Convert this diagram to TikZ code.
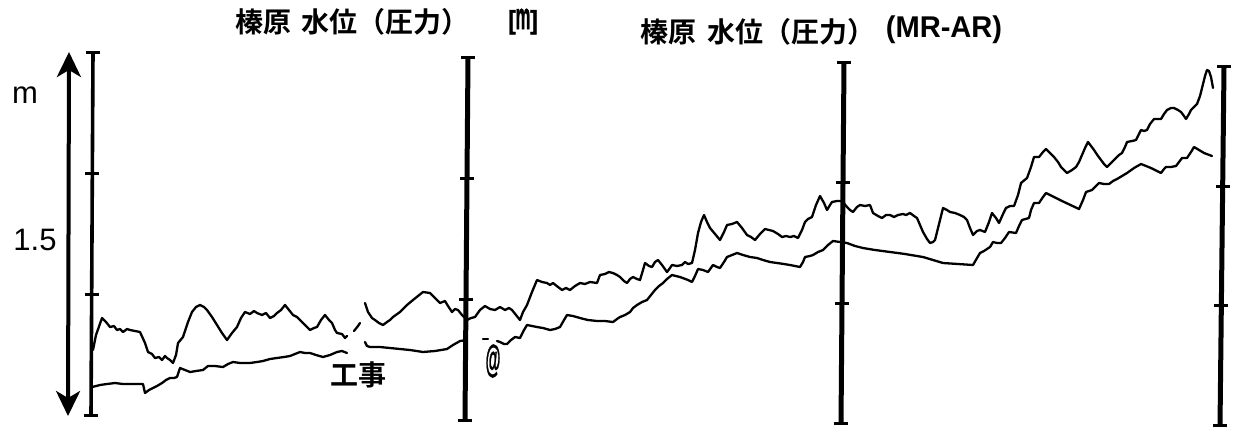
\documentclass[tikz,border=0pt]{standalone}
\usepackage{fontspec}
\setmainfont{Liberation Sans}
\newfontfamily\cjkb{Noto Sans CJK JP Bold}
\newfontfamily\heavy{Liberation Sans Bold}[FakeBold=1.5]
\usetikzlibrary{arrows.meta,calc}
\tikzset{
  axisbar/.style={line width=2.5pt},
  axisthin/.style={line width=1.8pt},
  capline/.style={line width=1.5pt},
  curve/.style={line width=1.15pt,line join=round,line cap=round},
  dblarrow/.style={line width=2pt,{Stealth[length=12.5pt,width=12pt,inset=3.5pt]}-{Stealth[length=12.5pt,width=12pt,inset=3.5pt]}},
  cjklabel/.style={font=\cjkb\fontsize{14pt}{16pt}\selectfont,inner sep=0pt},
  numlabel/.style={font=\fontsize{15.5pt}{18pt}\selectfont,inner sep=0pt,anchor=base},
}
\begin{document}
\begin{tikzpicture}[x=0.5pt,y=-0.5pt]
\useasboundingbox (0,0) rectangle (1234,428);
% titles
\node[cjklabel,anchor=base west] (t1a) at (235,32.5) {榛原};
\node[cjklabel,anchor=base west] (t1b) at (301,32.5) {水位（圧力）};
\node[inner sep=0pt,anchor=base,font=\heavy\fontsize{13pt}{15pt}\selectfont] (t1c) at (523,29) {\scalebox{0.85}[1]{[\scalebox{0.75}[1.45]{m}]}};
\node[cjklabel,anchor=base west] (t2a) at (640,42) {榛原};
\node[cjklabel,anchor=base west] (t2b) at (707,42) {水位（圧力）};
\node[inner sep=0pt,anchor=base,font=\bfseries\fontsize{15pt}{17pt}\selectfont] (t2c) at (944,37) {\scalebox{0.97}[1]{(MR-AR)}};
% axis labels
\node[numlabel] (lm) at (25,103) {m};
\node[numlabel] (l15) at (35,250) {1.5};
% double arrow
\coordinate (arT) at (69,52);
\coordinate (arB) at (68,416);
\draw[dblarrow] (arT) -- (arB);
% axes
\coordinate (a1t) at (93,52);   \coordinate (a1b) at (91,415);
\coordinate (a2t) at (468,57);  \coordinate (a2b) at (465,420);
\coordinate (a3t) at (844,62);  \coordinate (a3b) at (841,423);
\coordinate (a4t) at (1224,66); \coordinate (a4b) at (1220,425);
\draw[axisthin] (a1t) -- (a1b);
\draw[axisbar] (a2t) -- (a2b);
\draw[axisbar] (a3t) -- (a3b);
\draw[axisbar] (a4t) -- (a4b);
\foreach \a in {a1,a2,a3,a4}{
  \foreach \f in {0,0.335,0.668,1}{
    \coordinate (tk) at ($(\a t)!\f!(\a b)$);
    \draw[capline] ($(tk)+(-7,0)$) -- ($(tk)+(7,0)$);
  }
}
% upper curve
\draw[curve] plot coordinates {(93,350) (96,335) (102,318) (106,322) (110,327) (114,326) (117,330) (120,329) (123,332) (127,329) (130,330) (135,331) (140,332) (145,343) (148,352) (152,354) (155,358) (159,357) (162,360) (165,356) (167,358) (170,360) (173,363) (176,355) (178,343) (183,337) (188,322) (192,312) (196,307) (200,305) (204,307) (207,310) (212,317) (217,325) (222,333) (227,340) (232,333) (237,327) (241,318) (245,312) (250,314) (254,311) (257,313) (262,315) (266,313) (270,318) (274,316) (277,313) (281,310) (285,305) (289,310) (293,315) (297,317) (302,322) (306,326) (310,330) (314,328) (317,327) (321,320) (325,315) (329,320) (332,323) (335,330) (337,333) (342,334) (345,338) (347,336)};
\draw[curve] plot coordinates {(354,331) (358,326) (360,323)};
\draw[curve] plot coordinates {(365,303) (368,312) (372,318) (375,320) (379,323) (383,325) (387,322) (390,320) (393,317) (400,312) (407,305) (413,300) (418,296) (423,292) (430,293) (435,298) (440,303) (445,301) (448,306) (452,312) (455,309) (458,310) (462,315) (467,320) (471,318) (475,317) (480,310) (485,306) (490,309) (495,310) (500,307) (505,310) (509,308) (512,310) (516,315) (520,320) (523,312) (527,305) (532,292) (537,280) (542,282) (547,283) (550,285) (553,283) (558,287) (562,290) (566,288) (570,290) (575,286) (580,283) (585,284) (590,282) (597,283) (600,275) (605,274) (609,272) (613,273) (617,275) (620,277) (624,281) (627,283) (630,279) (633,277) (637,279) (640,280) (643,270) (645,263) (649,266) (652,267) (655,262) (658,260) (662,265) (667,272) (670,268) (672,265) (677,266) (682,265) (685,262) (688,264) (692,263) (695,250) (698,233) (701,222) (704,215) (707,222) (710,228) (715,234) (720,240) (724,232) (727,225) (732,224) (737,222) (742,228) (747,235) (751,237) (755,240) (760,234) (765,229) (769,230) (773,231) (778,234) (782,237) (786,236) (790,237) (794,236) (798,238) (802,230) (805,222) (808,219) (812,217) (816,205) (820,196) (824,203) (827,210) (830,205) (832,202) (837,201) (842,201) (847,207) (850,210) (853,212) (857,207) (860,205) (865,206) (870,205) (873,213) (878,216) (882,218) (886,215) (890,215) (894,217) (898,215) (903,214) (906,215) (910,213) (914,216) (917,218) (920,225) (923,232) (927,239) (930,243) (933,242) (935,240) (939,224) (943,208) (947,210) (950,212) (955,213) (960,215) (964,217) (967,220) (970,228) (973,235) (977,231) (980,230) (985,232) (989,222) (992,213) (996,218) (999,223) (1003,214) (1006,208) (1010,206) (1014,206) (1018,195) (1021,183) (1027,178) (1031,167) (1034,157) (1039,157) (1043,152) (1046,149) (1050,153) (1054,157) (1058,162) (1061,167) (1064,170) (1067,173) (1072,170) (1076,167) (1079,162) (1082,155) (1085,148) (1088,142) (1091,146) (1094,150) (1098,156) (1101,160) (1104,164) (1107,167) (1112,162) (1116,158) (1119,155) (1122,153) (1125,147) (1127,142) (1132,141) (1136,140) (1139,134) (1141,130) (1144,131) (1147,130) (1150,124) (1154,119) (1158,119) (1161,119) (1164,114) (1167,110) (1171,108) (1174,108) (1178,110) (1181,112) (1184,116) (1186,119) (1189,114) (1191,110) (1194,107) (1197,104) (1200,96) (1202,88) (1205,76) (1207,70) (1209,71) (1211,77) (1213,88)};
% lower curve
\draw[curve] plot coordinates {(92,387) (100,385) (107,384) (115,383) (123,384) (130,384) (137,384) (143,384) (145,393) (149,390) (153,388) (157,386) (162,383) (166,380) (170,378) (174,378) (177,377) (180,368) (185,370) (190,372) (196,371) (203,370) (208,366) (215,366) (223,367) (228,364) (233,362) (240,363) (250,363) (257,362) (263,361) (270,359) (277,358) (284,357) (290,356) (295,354) (300,352) (305,353) (310,353) (316,355) (323,357) (330,355) (337,352) (342,351) (347,353)};
\draw[curve] plot coordinates {(365,342) (367,346) (370,347) (380,347) (390,348) (400,349) (410,350) (423,352) (435,351) (447,349) (453,345) (460,341) (467,340)};
\draw[curve] plot coordinates {(483,339) (488,339)};
\draw[curve] plot coordinates {(497,341) (500,342) (504,344) (507,344) (511,340) (515,337) (520,338) (524,330) (527,325) (532,326) (537,327) (543,328) (550,330) (555,329) (560,327) (564,320) (567,315) (573,316) (580,318) (588,320) (597,321) (605,321) (613,322) (617,319) (620,317) (625,315) (630,312) (633,308) (637,305) (642,302) (647,300) (651,295) (655,290) (659,286) (663,283) (667,279) (672,275) (680,277) (688,280) (692,282) (695,276) (698,269) (703,270) (708,272) (713,265) (717,267) (720,268) (724,262) (727,257) (732,255) (737,253) (743,255) (750,257) (757,258) (763,260) (770,262) (777,263) (784,264) (790,265) (795,266) (800,267) (803,262) (805,257) (810,256) (813,255) (818,252) (823,250) (828,245) (833,241) (840,242) (847,243) (855,246) (863,248) (875,250) (890,252) (905,254) (923,257) (933,260) (943,263) (958,264) (973,265) (977,258) (980,253) (984,251) (990,247) (993,242) (997,243) (1001,243) (1005,238) (1009,232) (1016,233) (1019,226) (1022,220) (1029,218) (1031,210) (1034,203) (1039,203) (1043,197) (1046,193) (1062,201) (1079,209) (1083,200) (1086,192) (1092,190) (1096,186) (1099,183) (1104,184) (1109,184) (1113,181) (1117,179) (1122,176) (1127,173) (1134,168) (1141,164) (1151,168) (1161,173) (1164,169) (1166,167) (1171,167) (1176,166) (1179,162) (1182,158) (1187,158) (1191,152) (1194,147) (1199,150) (1204,153) (1212,156)};
% annotations
\node[cjklabel,anchor=base] (kouji) at (358,385) {工事};
\node[inner sep=0pt,anchor=center,font=\heavy\fontsize{19pt}{21pt}\selectfont] (atm) at (493,361) {\scalebox{0.4}[1]{@}};
\end{tikzpicture}
\end{document}
